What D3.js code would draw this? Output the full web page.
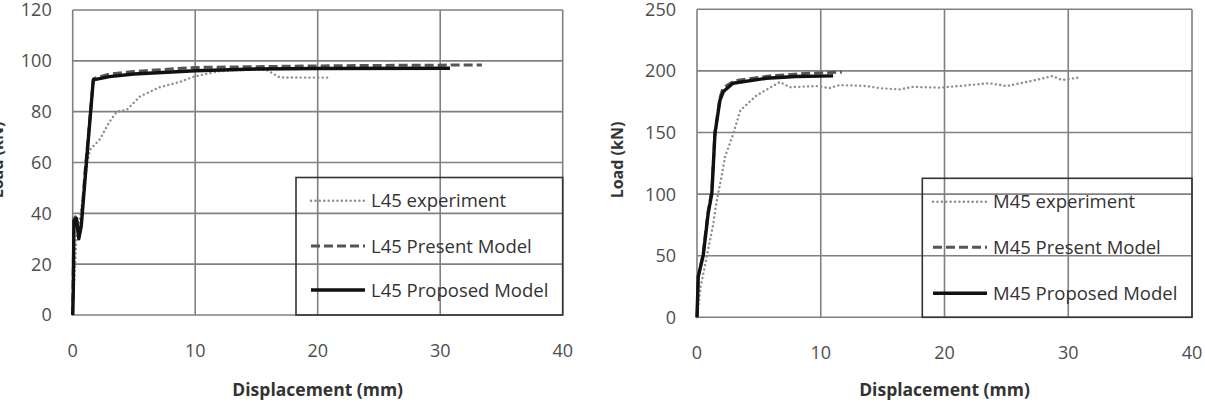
<!DOCTYPE html>
<html>
<head>
<meta charset="utf-8">
<script src="https://cdn.jsdelivr.net/npm/d3@7"></script>
<style>
  body { margin: 0; background: #fff; }
  svg { display: block; font-family: "Open Sans", sans-serif; }
</style>
</head>
<body>
<div id="chart"></div>
<script>
// Data (displacement mm, load kN)
var l45Experiment = [[0, 0], [0.3, 30], [0.8, 45], [1.2, 60], [1.4, 65], [2.2, 69], [3.0, 76], [3.6, 80], [4.4, 80.7],
  [5.5, 86], [7.1, 89.6], [8.8, 91.8], [9.9, 93.8], [11.8, 95.8], [13.5, 96.4], [15.8, 96.5], [16.9, 93.5], [18.5, 93.4], [21.1, 93.4]];
var l45Present = [[0, 0], [0.1, 38], [0.3, 39], [0.5, 31], [0.7, 36], [1.0, 56], [1.7, 93], [3, 94.8], [5, 95.8],
  [10, 97.4], [15, 97.7], [20, 98], [25, 98.2], [30, 98.3], [33.4, 98.4]];
var l45Proposed = [[0, 0], [0.05, 10], [0.1, 37], [0.3, 38], [0.5, 30], [0.7, 35], [1.0, 53], [1.68, 92.5], [3, 93.8],
  [5, 94.8], [10, 96.1], [15, 96.8], [20, 97], [30.8, 97.1]];

var m45Experiment = [[0, 0], [0.3, 25], [0.8, 50], [1.3, 75], [1.6, 95], [2.0, 115], [2.26, 130], [2.93, 149], [3.5, 168],
  [4.8, 180], [6.7, 191], [7.5, 186.7], [9.65, 187.7], [10.7, 186], [11.5, 188.5], [13.7, 187.7], [14.8, 185.9],
  [16.4, 185], [17.4, 187], [19.7, 186.4], [21.5, 188], [23.6, 190], [25, 187.7], [27.4, 192.6], [28.7, 195.8],
  [29.5, 192.6], [31, 194.8]];
var m45Present = [[0, 0], [0.1, 33], [0.5, 52], [0.9, 86], [1.2, 103], [1.45, 150], [1.85, 178], [2.1, 186], [3, 192],
  [6, 196], [9, 198], [11.7, 199]];
var m45Proposed = [[0, 0], [0.1, 33], [0.5, 50], [0.9, 84], [1.2, 100.6], [1.45, 149], [1.85, 176], [2.12, 183],
  [2.9, 190], [5.6, 194], [8, 195.5], [11.0, 196]];

var xTicks = [0, 10, 20, 30, 40];
var l45Ticks = [0, 20, 40, 60, 80, 100, 120];
var m45Ticks = [0, 50, 100, 150, 200, 250];

var l45Names = ["L45 experiment", "L45 Present Model", "L45 Proposed Model"];
var m45Names = ["M45 experiment", "M45 Present Model", "M45 Proposed Model"];

var svg = d3.select("#chart").append("svg")
  .attr("width", 1205)
  .attr("height", 405);

// experiment = dotted, present = dashed, proposed = solid
var styles = [
  { color: "#8e8e8e", width: 2.4, dash: "0.1,4.3", cap: "round" },
  { color: "#555", width: 3, dash: "9,4", cap: "butt" },
  { color: "#111", width: 3.4, dash: null, cap: "butt" }
];

function drawChart(opt) {
  var x = d3.scaleLinear().domain([0, 40]).range([opt.left, opt.right]);
  var y = d3.scaleLinear().domain([0, opt.yMax]).range([opt.bottom, opt.top]);
  var g = svg.append("g");

  // grid
  g.selectAll(".vgrid").data(xTicks).enter().append("line")
    .attr("x1", d => x(d)).attr("x2", d => x(d))
    .attr("y1", opt.top).attr("y2", opt.bottom)
    .attr("stroke", "#808080").attr("stroke-width", 1.6);
  g.selectAll(".hgrid").data(opt.yTicks).enter().append("line")
    .attr("x1", opt.left).attr("x2", opt.right)
    .attr("y1", d => y(d)).attr("y2", d => y(d))
    .attr("stroke", "#808080").attr("stroke-width", 1.6);

  // tick labels
  g.selectAll(".ylab").data(opt.yTicks).enter().append("text")
    .attr("x", opt.left - 21).attr("y", d => y(d)).attr("dy", "0.36em")
    .attr("text-anchor", "end").attr("font-size", 18).attr("fill", "#4d4d4d")
    .text(d => d);
  g.selectAll(".xlab").data(xTicks).enter().append("text")
    .attr("x", d => x(d)).attr("y", opt.bottom + 42)
    .attr("text-anchor", "middle").attr("font-size", 18).attr("fill", "#4d4d4d")
    .text(d => d);

  // axis titles
  g.append("text")
    .attr("x", (opt.left + opt.right) / 2).attr("y", 396)
    .attr("text-anchor", "middle").attr("font-size", 17.5).attr("font-weight", "bold").attr("fill", "#333")
    .text("Displacement (mm)");
  g.append("text")
    .attr("transform", `translate(${opt.titleX}, 160) rotate(-90)`)
    .attr("dy", "0.35em")
    .attr("text-anchor", "middle").attr("font-size", 16).attr("font-weight", "bold").attr("fill", "#333")
    .text("Load (kN)");

  // series
  var line = d3.line().x(d => x(d[0])).y(d => y(d[1]));
  opt.series.forEach(function(s, i) {
    var st = styles[i];
    g.append("path")
      .datum(s)
      .attr("d", line)
      .attr("fill", "none")
      .attr("stroke", st.color)
      .attr("stroke-width", st.width)
      .attr("stroke-dasharray", st.dash)
      .attr("stroke-linecap", st.cap)
      .attr("stroke-linejoin", "round");
  });

  // legend
  var lg = g.append("g");
  lg.append("rect")
    .attr("x", opt.legend.x).attr("y", opt.legend.y)
    .attr("width", opt.right - opt.legend.x).attr("height", opt.bottom - opt.legend.y)
    .attr("fill", "none").attr("stroke", "#333").attr("stroke-width", 1.6);
  opt.names.forEach(function(name, i) {
    var st = styles[i];
    var ry = opt.legend.rows[i];
    lg.append("line")
      .attr("x1", opt.legend.lineX).attr("x2", opt.legend.lineX + 54)
      .attr("y1", ry).attr("y2", ry)
      .attr("stroke", st.color)
      .attr("stroke-width", st.width)
      .attr("stroke-dasharray", st.dash)
      .attr("stroke-linecap", st.cap);
    lg.append("text")
      .attr("x", opt.legend.lineX + 60).attr("y", ry).attr("dy", "0.36em")
      .attr("font-size", 18.5).attr("fill", "#333")
      .text(name);
  });
}

drawChart({
  left: 72.7, right: 562.7, top: 10, bottom: 315, yMax: 120,
  yTicks: l45Ticks, titleX: -3,
  series: [l45Experiment, l45Present, l45Proposed],
  names: l45Names,
  legend: { x: 296, y: 177.5, lineX: 311, rows: [200.7, 246, 290] }
});

drawChart({
  left: 697, right: 1192, top: 9.3, bottom: 317.3, yMax: 250,
  yTicks: m45Ticks, titleX: 617,
  series: [m45Experiment, m45Present, m45Proposed],
  names: m45Names,
  legend: { x: 922.3, y: 178.3, lineX: 933, rows: [201.7, 247.3, 293.3] }
});
</script>
</body>
</html>
